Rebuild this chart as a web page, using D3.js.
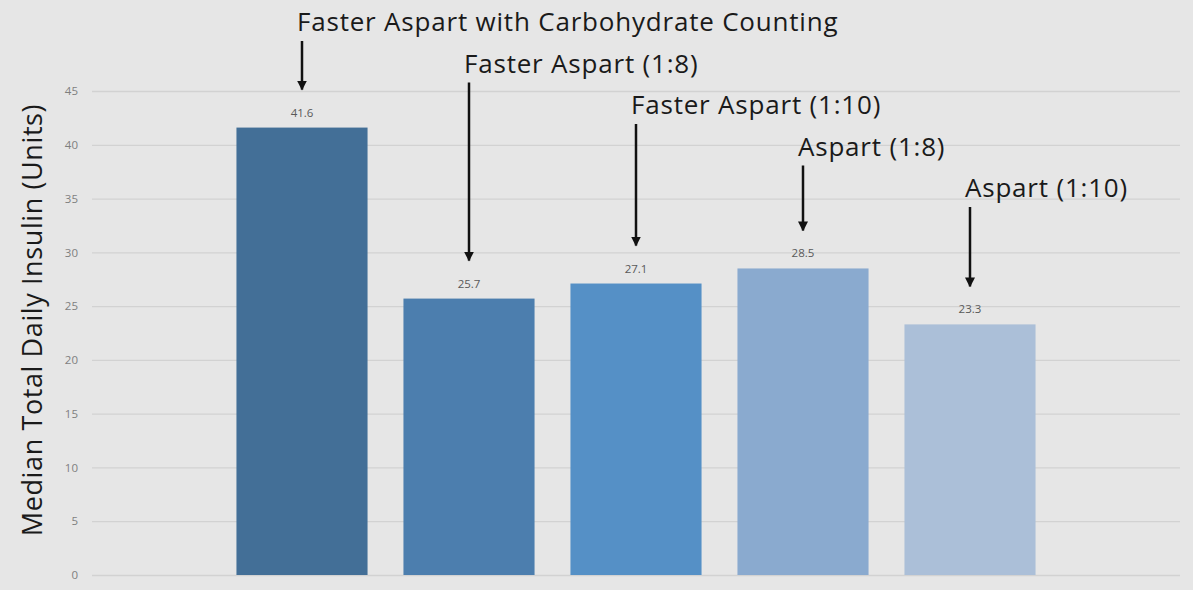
<!DOCTYPE html>
<html>
<head>
<meta charset="utf-8">
<script src="https://d3js.org/d3.v7.min.js"></script>
<style>
  body { margin: 0; background: #e6e6e6; }
  svg { display: block; }
</style>
</head>
<body>
<script>
var width = 1193;
var height = 590;

var categories = ["Faster Aspart with Carbohydrate Counting", "Faster Aspart (1:8)", "Faster Aspart (1:10)", "Aspart (1:8)", "Aspart (1:10)"];
var values = [41.6, 25.7, 27.1, 28.5, 23.3];
var barColors = ["#436f97", "#4c7eae", "#5590c6", "#8aaacf", "#abbfd8"];
var yTicks = [0, 5, 10, 15, 20, 25, 30, 35, 40, 45];

// plot box (note: "top" is reserved on window, so use m*)
var mLeft = 92, mRight = 1180, mTop = 91, mBottom = 575;

var x = d3.scaleBand()
	.domain(categories)
	.range([mLeft, mRight])
	.paddingInner(0.215)
	.paddingOuter(0.865);

var y = d3.scaleLinear()
	.domain([0, 45])
	.range([mBottom, mTop]);

var svg = d3.select("body")
	.append("svg")
	.attr("width", width)
	.attr("height", height);

svg.append("rect")
	.attr("width", width)
	.attr("height", height)
	.attr("fill", "#e6e6e6");

// gridlines + tick labels
var yAxis = d3.axisLeft(y)
	.tickValues(yTicks)
	.tickSize(-(mRight - mLeft))
	.tickPadding(14);

var gy = svg.append("g")
	.attr("transform", "translate(" + mLeft + ",0)")
	.call(yAxis);
gy.select(".domain").remove();
gy.selectAll(".tick line").attr("stroke", "#d2d2d2").attr("stroke-width", 1.3);
gy.selectAll(".tick text")
	.attr("fill", "#7f7f7f")
	.attr("font-family", "Open Sans, sans-serif")
	.attr("font-size", 11.5);

// bars
svg.selectAll("rect.bar")
	.data(values)
	.enter()
	.append("rect")
	.attr("class", "bar")
	.attr("x", function(d, i) { return x(categories[i]); })
	.attr("y", function(d) { return y(d); })
	.attr("width", x.bandwidth())
	.attr("height", function(d) { return y(0) - y(d); })
	.attr("fill", function(d, i) { return barColors[i]; });

// value labels
svg.selectAll("text.val")
	.data(values)
	.enter()
	.append("text")
	.attr("class", "val")
	.attr("x", function(d, i) { return x(categories[i]) + x.bandwidth() / 2; })
	.attr("y", function(d) { return y(d) - 11; })
	.attr("text-anchor", "middle")
	.attr("fill", "#595959")
	.attr("font-family", "Open Sans, sans-serif")
	.attr("font-size", 11.5)
	.text(function(d) { return d.toFixed(1); });

// y title
svg.append("text")
	.attr("transform", "translate(42," + 320 + ") rotate(-90)")
	.attr("text-anchor", "middle")
	.attr("fill", "#1a1a1a")
	.attr("font-family", "Open Sans, sans-serif")
	.attr("font-size", 27)
	.attr("letter-spacing", 0.6)
	.text("Median Total Daily Insulin (Units)");

// annotations with arrows
svg.append("defs").append("marker")
	.attr("id", "arrow")
	.attr("viewBox", "0 0 10 10")
	.attr("refX", 9).attr("refY", 5)
	.attr("markerWidth", 4).attr("markerHeight", 4.5)
	.attr("markerUnits", "strokeWidth")
	.attr("orient", "auto")
	.append("path")
	.attr("d", "M0,0 L10,5 L0,10 z")
	.attr("fill", "#111");

var ann = svg.selectAll("g.ann")
	.data(categories)
	.enter()
	.append("g")
	.attr("class", "ann");

ann.append("text")
	.attr("x", function(d) { return x(d) + x.bandwidth() / 2 - 5; })
	.attr("y", function(d, i) { return 31 + i * 41.5; })
	.attr("fill", "#1a1a1a")
	.attr("font-family", "Open Sans, sans-serif")
	.attr("font-size", 26)
	.attr("letter-spacing", 0.8)
	.text(function(d) { return d; });

ann.append("line")
	.attr("x1", function(d) { return x(d) + x.bandwidth() / 2; })
	.attr("x2", function(d) { return x(d) + x.bandwidth() / 2; })
	.attr("y1", function(d, i) { return 41 + i * 41.5; })
	.attr("y2", function(d, i) { return y(values[i]) - 38; })
	.attr("stroke", "#111")
	.attr("stroke-width", 2.5)
	.attr("marker-end", "url(#arrow)");
</script>
</body>
</html>
